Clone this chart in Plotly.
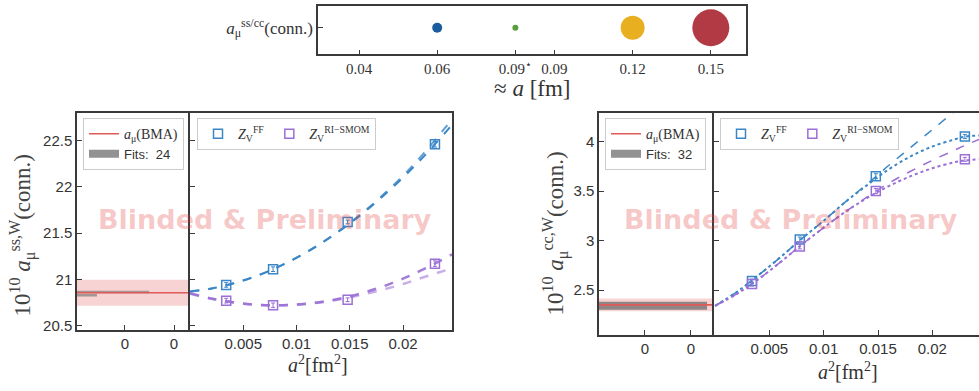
import plotly.graph_objects as go

W, H = 979, 391

# ---------------- data ----------------
strip_tick_pos = [0, 2, 4, 5, 7, 9]
strip_tick_text = ["0.04", "0.06", "0.09<sup>⋆</sup>", "0.09", "0.12", "0.15"]
ens_pos = [2, 4, 7, 9]
ens_weight = [10, 6, 24, 37]
ens_colors = ["#1b5c9e", "#5a9e3c", "#e8b021", "#b23a45"]

a2 = [0.0034, 0.0078, 0.0148, 0.0230]
ss_ff = [20.94, 21.11, 21.62, 22.46]
ss_ri = [20.77, 20.72, 20.78, 21.17]
ss_err = [0.025, 0.025, 0.02, 0.03]
cc_ff = [2.59, 3.01, 3.65, 4.05]
cc_ri = [2.56, 2.94, 3.50, 3.82]
cc_err = [0.02, 0.025, 0.025, 0.02]

fit_x = [0, 0.002, 0.004, 0.006, 0.008, 0.010, 0.012, 0.014, 0.016, 0.018, 0.020, 0.022, 0.0246]
ss_ff_fit1 = [20.870, 20.902, 20.955, 21.027, 21.120, 21.233, 21.366, 21.520, 21.693, 21.887, 22.101, 22.335, 22.670]
ss_ff_fit2 = [20.866, 20.899, 20.953, 21.026, 21.120, 21.234, 21.369, 21.525, 21.702, 21.900, 22.120, 22.370, 22.730]
ss_ri_fit1 = [20.850, 20.793, 20.753, 20.728, 20.720, 20.728, 20.751, 20.791, 20.847, 20.919, 21.008, 21.112, 21.270]
ss_ri_fit2 = [20.845, 20.790, 20.751, 20.727, 20.719, 20.726, 20.747, 20.783, 20.830, 20.885, 20.950, 21.025, 21.120]

cc_fit_x = [0, 0.002, 0.004, 0.006, 0.008, 0.010, 0.012, 0.014, 0.016, 0.018, 0.020, 0.022, 0.023, 0.0243]
cc_ff_dash = [2.34, 2.48, 2.65, 2.83, 3.02, 3.20, 3.39, 3.57, 3.76, 3.94, 4.12, 4.30, 4.39, 4.51]
cc_ff_dot = [2.34, 2.48, 2.65, 2.83, 3.02, 3.20, 3.39, 3.56, 3.72, 3.85, 3.95, 4.02, 4.05, 4.06]
cc_ri_dash = [2.34, 2.46, 2.61, 2.78, 2.96, 3.13, 3.29, 3.44, 3.58, 3.70, 3.81, 3.91, 3.96, 4.02]
cc_ri_dot = [2.34, 2.46, 2.61, 2.78, 2.96, 3.13, 3.29, 3.43, 3.55, 3.65, 3.73, 3.79, 3.81, 3.82]

ss_bma, ss_bma_err = 20.856, 0.14
cc_bma, cc_bma_err = 2.350, 0.065
ss_fits_y = [20.862, 20.828]
ss_fits_len = [0.65, 0.18]
cc_fits_y = [2.342]
cc_fits_len = [0.956]

ss_left_ticks = [0.432, 0.874]
cc_left_ticks = [0.407, 0.814]

BLUE = "#3a86c6"
PURPLE = "#9a6fd6"
RED = "#e05a5a"
AX = "#3a3a3a"
SANS = "Liberation Sans"
SERIF = "Liberation Serif"


def fx(p):
    return p / W


def fy(p):
    return 1 - p / H


fig = go.Figure()

# ---------------- top strip ----------------
for p, s, c in zip(ens_pos, ens_weight, ens_colors):
    fig.add_trace(go.Scatter(x=[p], y=[0], mode="markers", xaxis="x", yaxis="y",
                             marker=dict(size=s, color=c, line=dict(width=0)),
                             showlegend=False, cliponaxis=False))

# ---------------- ss panel ----------------
fig.add_trace(go.Scatter(x=[0, 1, 1, 0, 0],
                         y=[ss_bma - ss_bma_err, ss_bma - ss_bma_err, ss_bma + ss_bma_err,
                            ss_bma + ss_bma_err, ss_bma - ss_bma_err],
                         fill="toself", fillcolor="rgba(225,80,80,0.25)", line=dict(width=0),
                         mode="lines", xaxis="x2", yaxis="y2", showlegend=False, hoverinfo="skip"))
for yv, ln in zip(ss_fits_y, ss_fits_len):
    fig.add_trace(go.Scatter(x=[0, ln], y=[yv, yv], mode="lines", xaxis="x2", yaxis="y2",
                             line=dict(color="rgba(110,110,110,0.6)", width=2.5), showlegend=False))
fig.add_trace(go.Scatter(x=[0, 1], y=[ss_bma, ss_bma], mode="lines", xaxis="x2", yaxis="y2",
                         line=dict(color=RED, width=1.6),
                         name='<span style="font-family:Liberation Serif;font-size:14px"><i>a</i><sub>μ</sub>(BMA)</span>',
                         legend="legend"))
fig.add_trace(go.Scatter(x=[None], y=[None], mode="lines", xaxis="x2", yaxis="y2",
                         line=dict(color="rgba(110,110,110,0.75)", width=8),
                         name="Fits:  24", legend="legend"))

for yy, op in [(ss_ff_fit1, 1.0), (ss_ff_fit2, 0.8)]:
    fig.add_trace(go.Scatter(x=fit_x, y=yy, mode="lines", xaxis="x3", yaxis="y3",
                             line=dict(color=BLUE, width=2, dash="dash", shape="spline"),
                             opacity=op, showlegend=False))
for yy, op in [(ss_ri_fit1, 0.9), (ss_ri_fit2, 0.55)]:
    fig.add_trace(go.Scatter(x=fit_x, y=yy, mode="lines", xaxis="x3", yaxis="y3",
                             line=dict(color=PURPLE, width=2.5, dash="dash", shape="spline"),
                             opacity=op, showlegend=False))

ff_name = '<span style="font-family:Liberation Serif;font-size:14px"><i>Z</i><sub>V</sub><sup>FF</sup></span>'
ri_name = '<span style="font-family:Liberation Serif;font-size:14px"><i>Z</i><sub>V</sub><sup>RI−SMOM</sup></span>'

fig.add_trace(go.Scatter(x=a2, y=ss_ff, mode="markers", xaxis="x3", yaxis="y3",
                         marker=dict(symbol="square-open", size=9, color=BLUE, line=dict(width=1.5)),
                         error_y=dict(type="data", array=ss_err, color=BLUE, thickness=1, width=2),
                         name=ff_name, legend="legend2"))
fig.add_trace(go.Scatter(x=a2, y=ss_ri, mode="markers", xaxis="x3", yaxis="y3",
                         marker=dict(symbol="square-open", size=9, color=PURPLE, line=dict(width=1.5)),
                         error_y=dict(type="data", array=ss_err, color=PURPLE, thickness=1, width=2),
                         name=ri_name, legend="legend2"))

# ---------------- cc panel ----------------
fig.add_trace(go.Scatter(x=[0, 1, 1, 0, 0],
                         y=[cc_bma - cc_bma_err, cc_bma - cc_bma_err, cc_bma + cc_bma_err,
                            cc_bma + cc_bma_err, cc_bma - cc_bma_err],
                         fill="toself", fillcolor="rgba(225,80,80,0.25)", line=dict(width=0),
                         mode="lines", xaxis="x4", yaxis="y4", showlegend=False, hoverinfo="skip"))
for yv, ln in zip(cc_fits_y, cc_fits_len):
    fig.add_trace(go.Scatter(x=[0, ln], y=[yv, yv], mode="lines", xaxis="x4", yaxis="y4",
                             line=dict(color="rgba(100,100,100,0.7)", width=8), showlegend=False))
fig.add_trace(go.Scatter(x=[0, 1], y=[cc_bma, cc_bma], mode="lines", xaxis="x4", yaxis="y4",
                         line=dict(color=RED, width=1.6),
                         name='<span style="font-family:Liberation Serif;font-size:14px"><i>a</i><sub>μ</sub>(BMA)</span>',
                         legend="legend3"))
fig.add_trace(go.Scatter(x=[None], y=[None], mode="lines", xaxis="x4", yaxis="y4",
                         line=dict(color="rgba(110,110,110,0.75)", width=8),
                         name="Fits:  32", legend="legend3"))

fig.add_trace(go.Scatter(x=cc_fit_x, y=cc_ff_dash, mode="lines", xaxis="x5", yaxis="y5",
                         line=dict(color=BLUE, width=1.5, dash="dash", shape="spline"), showlegend=False))
fig.add_trace(go.Scatter(x=cc_fit_x, y=cc_ff_dot, mode="lines", xaxis="x5", yaxis="y5",
                         line=dict(color=BLUE, width=2, dash="dot", shape="spline"), showlegend=False))
fig.add_trace(go.Scatter(x=cc_fit_x, y=cc_ri_dash, mode="lines", xaxis="x5", yaxis="y5",
                         line=dict(color=PURPLE, width=1.5, dash="dash", shape="spline"), showlegend=False))
fig.add_trace(go.Scatter(x=cc_fit_x, y=cc_ri_dot, mode="lines", xaxis="x5", yaxis="y5",
                         line=dict(color=PURPLE, width=2, dash="dot", shape="spline"), showlegend=False))
fig.add_trace(go.Scatter(x=a2, y=cc_ff, mode="markers", xaxis="x5", yaxis="y5",
                         marker=dict(symbol="square-open", size=9, color=BLUE, line=dict(width=1.5)),
                         error_y=dict(type="data", array=cc_err, color=BLUE, thickness=1, width=2),
                         name=ff_name, legend="legend4"))
fig.add_trace(go.Scatter(x=a2, y=cc_ri, mode="markers", xaxis="x5", yaxis="y5",
                         marker=dict(symbol="square-open", size=9, color=PURPLE, line=dict(width=1.5)),
                         error_y=dict(type="data", array=cc_err, color=PURPLE, thickness=1, width=2),
                         name=ri_name, legend="legend4"))

# ---------------- axes ----------------
base = dict(showline=True, linecolor=AX, linewidth=1.5, ticks="inside", ticklen=5,
            tickcolor=AX, tickwidth=1, showgrid=False, zeroline=False,
            tickfont=dict(family=SANS, size=15, color="#333"))

ss_y = [20.457, 22.80]
cc_y = [2.05, 4.29]
ss_top, ss_bot = 114, 333
cc_top, cc_bot = 114, 338

layout = dict(
    width=W, height=H, margin=dict(l=0, r=0, t=0, b=0),
    paper_bgcolor="white", plot_bgcolor="white",
    xaxis=dict(base, domain=[fx(318), fx(746)], anchor="y", range=[-1.05, 9.9],
               tickvals=strip_tick_pos, ticktext=strip_tick_text, mirror=True,
               tickfont=dict(family=SERIF, size=15, color="#333")),
    yaxis=dict(base, domain=[fy(55), fy(6)], anchor="x", range=[-0.551, 0.449],
               tickvals=[0], mirror=True,
               ticktext=["<i>a</i><sub>μ</sub><sup>ss/cc</sup>(conn.)"],
               tickfont=dict(family=SERIF, size=17, color="#333")),
    xaxis2=dict(base, domain=[fx(77), fx(188)], anchor="y2", range=[0, 1],
                tickvals=ss_left_ticks, ticktext=["0", "0"], mirror=True),
    yaxis2=dict(base, domain=[fy(ss_bot), fy(ss_top)], anchor="x2", range=ss_y,
                tickvals=[20.5, 21, 21.5, 22, 22.5], ticktext=["20.5", "21", "21.5", "22", "22.5"],
                mirror=True),
    xaxis3=dict(base, domain=[fx(190), fx(452)], anchor="y3", range=[0, 0.0246],
                tickvals=[0.005, 0.01, 0.015, 0.02], ticktext=["0.005", "0.01", "0.015", "0.02"],
                mirror=True),
    yaxis3=dict(base, domain=[fy(ss_bot), fy(ss_top)], anchor="x3", range=ss_y,
                tickvals=[20.5, 21, 21.5, 22, 22.5], showticklabels=False, mirror=True),
    xaxis4=dict(base, domain=[fx(599), fx(712)], anchor="y4", range=[0, 1],
                tickvals=cc_left_ticks, ticktext=["0", "0"], mirror=True),
    yaxis4=dict(base, domain=[fy(cc_bot), fy(cc_top)], anchor="x4", range=cc_y,
                tickvals=[2.5, 3, 3.5, 4], ticktext=["2.5", "3", "3.5", "4"], mirror=True),
    xaxis5=dict(base, domain=[fx(714), 1.0], anchor="y5", range=[-0.0001, 0.0243],
                tickvals=[0.005, 0.01, 0.015, 0.02], ticktext=["0.005", "0.01", "0.015", "0.02"],
                mirror=True),
    yaxis5=dict(base, domain=[fy(cc_bot), fy(cc_top)], anchor="x5", range=cc_y,
                tickvals=[2.5, 3, 3.5, 4], showticklabels=False, mirror=False),
)

leg = dict(bgcolor="rgba(255,255,255,0.85)", bordercolor="#cccccc", borderwidth=1,
           font=dict(family=SANS, size=13, color="#333"), xanchor="left", yanchor="top",
           tracegroupgap=0, itemwidth=30)
layout["legend"] = dict(leg, x=fx(83), y=fy(119))
layout["legend2"] = dict(leg, x=fx(197), y=fy(119), orientation="h")
layout["legend3"] = dict(leg, x=fx(605), y=fy(119))
layout["legend4"] = dict(leg, x=fx(720), y=fy(119), orientation="h")

common = dict(xref="paper", yref="paper", showarrow=False, xanchor="center", yanchor="middle")
wm = dict(common, text="Blinded &amp; Preliminary",
          font=dict(family="DejaVu Sans", size=27, color="rgba(225,60,60,0.28)", weight="bold"))
ann = [
    dict(wm, x=fx(265), y=fy(222)),
    dict(wm, x=fx(791), y=fy(222)),
    dict(common, text="10<sup>10</sup> <i>a</i><sub>μ</sub><sup>ss,W</sup>(conn.)", textangle=-90,
         x=fx(22), y=fy(238), font=dict(family=SERIF, size=23, color="#444")),
    dict(common, text="10<sup>10</sup> <i>a</i><sub>μ</sub><sup>cc,W</sup>(conn.)", textangle=-90,
         x=fx(555), y=fy(236), font=dict(family=SERIF, size=23, color="#444")),
    dict(common, text="<i>a</i><sup>2</sup>[fm<sup>2</sup>]", x=fx(318), y=fy(368),
         font=dict(family=SERIF, size=20, color="#333")),
    dict(common, text="<i>a</i><sup>2</sup>[fm<sup>2</sup>]", x=fx(848), y=fy(375),
         font=dict(family=SERIF, size=20, color="#333")),
    dict(common, text="≈ <i>a</i> [fm]", x=fx(532), y=fy(89),
         font=dict(family=SERIF, size=23, color="#333")),
]
layout["annotations"] = ann

fig.update_layout(**layout)
fig.write_html("out.html")
